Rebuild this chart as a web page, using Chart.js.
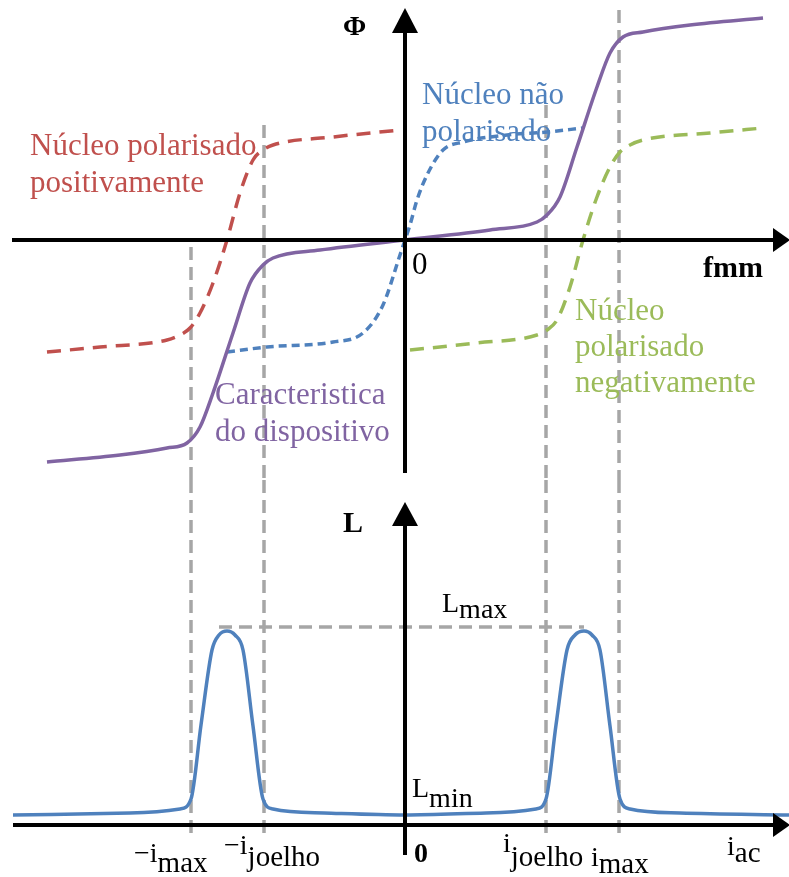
<!DOCTYPE html>
<html>
<head>
<meta charset="utf-8">
<script src="https://cdn.jsdelivr.net/npm/chart.js@4.4.1/dist/chart.umd.min.js"></script>
<style>
    body { margin: 0; background: #fff; }
    canvas { display: block; }
</style>
</head>
<body>
<canvas id="fluxo" width="789" height="480"></canvas>
<canvas id="indutancia" width="789" height="397"></canvas>
<script>
// ---- dados (unidades arbitrarias) ----
// caracteristica do dispositivo
var fmmDisp = [-35.8, -28.5, -23.8, -21.8, -20.5, -19.2, -17.2, -15.5, -14.2, -13.2, -8.5, 0, 8.5, 13.2, 14.2, 15.5, 17.2, 19.2, 20.5, 21.8, 23.8, 28.5, 35.8];
var fluxoDisp = [-22.2, -21.5, -20.8, -20.3, -18.7, -15.3, -9.3, -4.3, -2.5, -1.8, -1.0, 0, 1.0, 1.8, 2.5, 4.3, 9.3, 15.3, 18.7, 20.3, 20.8, 21.5, 22.2];
// nucleo nao polarisado
var fmmNaoPol = [-17.8, -13.8, -7.2, -4.2, -2.2, -0.5, 0, 0.5, 1.2, 2.2, 3.8, 5.8, 10.2, 14.2, 17.8];
var fluxoNaoPol = [-11.2, -10.7, -10.2, -9.3, -6.5, -1.5, 0, 1.5, 4.0, 6.5, 9.0, 9.8, 10.5, 10.8, 11.2];
// nucleo polarisado positivamente
var fmmPos = [-35.8, -30.5, -23.8, -22.5, -21.5, -20.5, -19.2, -17.8, -16.5, -15.2, -14.2, -13.2, -7.2, -0.5];
var fluxoPos = [-11.2, -10.7, -10.0, -9.5, -8.8, -7.3, -4.3, 0, 4.7, 8.0, 9.0, 9.5, 10.3, 11.0];
// nucleo polarisado negativamente
var fmmNeg = [0.5, 7.2, 13.2, 14.2, 15.2, 16.5, 17.8, 19.2, 20.5, 21.5, 22.5, 23.8, 30.5, 35.8];
var fluxoNeg = [-11.0, -10.3, -9.5, -9.0, -8.0, -4.7, 0, 4.3, 7.3, 8.8, 9.5, 10.0, 10.7, 11.2];

// indutancia em funcao da corrente
var corrente = [-39.2, -27.5, -22.5, -21.4, -20.4, -19.3, -18.6, -17.8, -17.0, -16.2, -15.2, -14.2, -13.2, -8.1, 0,
                8.1, 13.1, 14.1, 15.1, 16.2, 17.0, 17.9, 18.7, 19.5, 20.5, 21.5, 22.5, 27.5, 38.4];
var indut = [1.0, 1.2, 1.6, 2.6, 10.0, 17.5, 19.0, 19.4, 19.0, 17.5, 9.9, 2.6, 1.6, 1.2, 1.0,
             1.2, 1.6, 2.6, 10.0, 17.5, 19.0, 19.4, 19.0, 17.5, 9.9, 2.6, 1.6, 1.2, 1.0];
var lmaxX = [-18.6, 17.9];
var lmaxY = [19.8, 19.8];

// marcas no eixo: -imax, -ijoelho, ijoelho, imax
var marcas = [-21.4, -14.1, 14.1, 21.4];
var inicioGuiaFluxo = [-0.7, 11.5, 13.5, 23.0];

var vermelho = '#C0504D', azul = '#4F81BD', verde = '#9BBB59', roxo = '#8064A2', cinza = '#A6A6A6';
var serif = '"Liberation Serif", "Times New Roman", serif';

function pares(xs, ys) {
    var pts = [];
    for (var i = 0; i < xs.length; i++) {
        pts.push({ x: xs[i], y: ys[i] });
    }
    return pts;
}

function curva(xs, ys, cor, traco, ordem) {
    return {
        data: pares(xs, ys),
        borderColor: cor,
        borderWidth: 3.5,
        borderDash: traco,
        borderCapStyle: 'butt',
        pointRadius: 0,
        fill: false,
        cubicInterpolationMode: 'monotone',
        order: ordem
    };
}

function guias(topos, base) {
    return marcas.map(function (x, i) {
        var topo = Array.isArray(topos) ? topos[i] : topos;
        return {
            data: [{ x: x, y: topo }, { x: x, y: base }],
            borderColor: cinza,
            borderWidth: 3.5,
            borderDash: [13, 7],
            pointRadius: 0,
            fill: false,
            order: 10
        };
    });
}

function seta(ctx, x0, y0, x1, y1, comp, larg) {
    var ang = Math.atan2(y1 - y0, x1 - x0);
    var bx = x1 - comp * Math.cos(ang), by = y1 - comp * Math.sin(ang);
    ctx.beginPath();
    ctx.moveTo(x0, y0);
    ctx.lineTo(bx, by);
    ctx.stroke();
    ctx.beginPath();
    ctx.moveTo(x1, y1);
    ctx.lineTo(bx + larg * Math.sin(ang), by - larg * Math.cos(ang));
    ctx.lineTo(bx - larg * Math.sin(ang), by + larg * Math.cos(ang));
    ctx.closePath();
    ctx.fill();
}

function texto(ctx, s, x, y, fonte, cor) {
    ctx.font = fonte;
    ctx.fillStyle = cor || '#000';
    ctx.fillText(s, x, y);
}

// texto com indice (ex.: L max)
function indice(ctx, base, sub, x, yBase, ySub, tamBase, tamSub) {
    ctx.font = tamBase + 'px ' + serif;
    ctx.fillStyle = '#000';
    ctx.fillText(base, x, yBase);
    var w = ctx.measureText(base).width;
    ctx.font = tamSub + 'px ' + serif;
    ctx.fillText(sub, x + w, ySub);
}

function opcoes(ymin, ymax) {
    return {
        responsive: false,
        animation: false,
        layout: { padding: 0 },
        plugins: { legend: { display: false }, tooltip: { enabled: false } },
        scales: {
            x: { type: 'linear', min: -40.5, max: 38.4, display: false },
            y: { type: 'linear', min: ymin, max: ymax, display: false }
        }
    };
}

// ---------------- grafico do fluxo ----------------
var eixosFluxo = {
    id: 'eixosFluxo',
    afterDatasetsDraw: function (chart) {
        var ctx = chart.ctx, sx = chart.scales.x, sy = chart.scales.y;
        ctx.save();
        ctx.strokeStyle = '#000';
        ctx.fillStyle = '#000';
        ctx.lineWidth = 4;
        seta(ctx, sx.getPixelForValue(-39.3), sy.getPixelForValue(0), sx.getPixelForValue(38.5), sy.getPixelForValue(0), 17, 12);
        seta(ctx, sx.getPixelForValue(0), sy.getPixelForValue(-23.3), sx.getPixelForValue(0), sy.getPixelForValue(23.2), 25, 13);
        ctx.restore();
    },
    afterDraw: function (chart) {
        var ctx = chart.ctx;
        ctx.save();
        ctx.textBaseline = 'alphabetic';
        texto(ctx, 'Φ', 343, 35, 'bold 28px ' + serif);
        texto(ctx, '0', 412, 274, '31px ' + serif);
        texto(ctx, 'fmm', 703, 277, 'bold 30px ' + serif);
        var f = '31px ' + serif;
        texto(ctx, 'Núcleo polarisado', 30, 155, f, vermelho);
        texto(ctx, 'positivamente', 30, 192, f, vermelho);
        texto(ctx, 'Núcleo não', 422, 104, f, azul);
        texto(ctx, 'polarisado', 422, 141, f, azul);
        texto(ctx, 'Núcleo', 575, 320, f, verde);
        texto(ctx, 'polarisado', 575, 356, f, verde);
        texto(ctx, 'negativamente', 575, 392, f, verde);
        texto(ctx, 'Caracteristica', 215, 404, f, roxo);
        texto(ctx, 'do dispositivo', 215, 441, f, roxo);
        ctx.restore();
    }
};

new Chart(document.getElementById('fluxo'), {
    type: 'line',
    data: {
        datasets: [
            curva(fmmDisp, fluxoDisp, roxo, [], 1),
            curva(fmmNaoPol, fluxoNaoPol, azul, [8, 5], 2),
            curva(fmmPos, fluxoPos, vermelho, [14, 9], 3),
            curva(fmmNeg, fluxoNeg, verde, [14, 9], 4)
        ].concat(guias(inicioGuiaFluxo, -24))
    },
    options: opcoes(-24, 24),
    plugins: [eixosFluxo]
});

// ---------------- grafico da indutancia ----------------
var eixosIndut = {
    id: 'eixosIndut',
    afterDatasetsDraw: function (chart) {
        var ctx = chart.ctx, sx = chart.scales.x, sy = chart.scales.y;
        ctx.save();
        ctx.strokeStyle = '#000';
        ctx.fillStyle = '#000';
        ctx.lineWidth = 4;
        seta(ctx, sx.getPixelForValue(-39.2), sy.getPixelForValue(0), sx.getPixelForValue(38.5), sy.getPixelForValue(0), 17, 12);
        seta(ctx, sx.getPixelForValue(0), sy.getPixelForValue(-3.0), sx.getPixelForValue(0), sy.getPixelForValue(32.3), 24, 13);
        ctx.restore();
    },
    afterDraw: function (chart) {
        var ctx = chart.ctx;
        ctx.save();
        ctx.textBaseline = 'alphabetic';
        texto(ctx, 'L', 343, 52, 'bold 30px ' + serif);
        indice(ctx, 'L', 'max', 442, 132, 138, 28, 28);
        indice(ctx, 'L', 'min', 412, 317, 327, 28, 28);
        texto(ctx, '0', 414, 382, 'bold 28px ' + serif);
        indice(ctx, '−i', 'max', 134, 382, 392, 28, 29);
        indice(ctx, '−i', 'joelho', 224, 374, 386, 28, 29);
        indice(ctx, 'i', 'joelho', 503, 372, 386, 28, 29);
        indice(ctx, 'i', 'max', 591, 386, 393, 28, 29);
        indice(ctx, 'i', 'ac', 727, 375, 382, 28, 29);
        ctx.restore();
    }
};

new Chart(document.getElementById('indutancia'), {
    type: 'line',
    data: {
        datasets: [
            curva(corrente, indut, azul, [], 1),
            {
                data: pares(lmaxX, lmaxY),
                borderColor: cinza,
                borderWidth: 3.5,
                borderDash: [13, 7],
                pointRadius: 0,
                fill: false,
                order: 10
            }
        ].concat(guias(34.5, -1.4))
    },
    options: opcoes(-5.2, 34.5),
    plugins: [eixosIndut]
});
</script>
</body>
</html>
